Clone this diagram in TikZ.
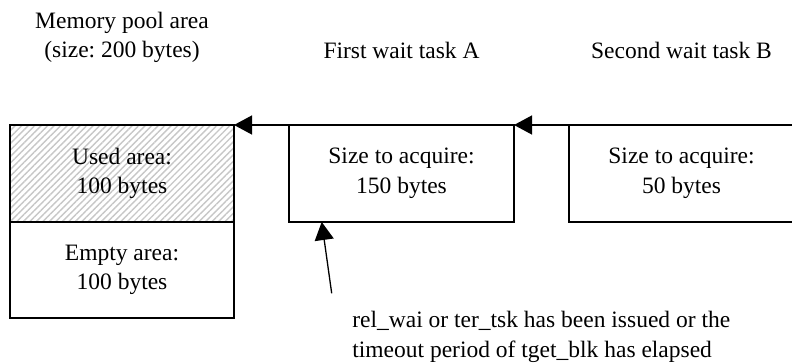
\documentclass[tikz,border=0pt]{standalone}
\usepackage{fontspec}
\setmainfont{Liberation Serif}
\usetikzlibrary{arrows.meta,positioning,calc,patterns.meta}
\frenchspacing

\begin{document}
\begin{tikzpicture}[
  x=1pt, y=1pt,
  font=\fontsize{23.5pt}{29.5pt}\selectfont,
  >={Triangle[length=18pt,width=19pt]},
  line width=1.3pt,
  area/.style={draw, align=center, minimum width=224pt, minimum height=97pt, inner sep=0pt, outer sep=0pt},
  wait/.style={area, minimum width=225pt},
  lbl/.style={align=center, inner sep=0pt},
  hatch/.style={pattern={Lines[angle=45,distance=4.6pt,line width=1.4pt]}, pattern color=black!22}
]
\useasboundingbox (0,0) rectangle (792,362);

% memory pool
\node[area, hatch, anchor=north west] (used) at (10,237) {Used area:\\100 bytes};
\node[area, below=0pt of used, minimum height=96pt] (empty) {Empty area:\\100 bytes};
\node[lbl, above=61.5pt of used] (pool) {Memory pool area\\(size: 200 bytes)};

% wait queue
\node[wait, right=55pt of used] (taskA) {Size to acquire:\\150 bytes};
\node[wait, right=55pt of taskA] (taskB) {Size to acquire:\\50 bytes};
\node[lbl, above=66pt of taskA] (nameA) {First wait task A};
\node[lbl, above=66pt of taskB] (nameB) {Second wait task B};

\draw[->] (taskB.north west) -- (taskA.north east);
\draw[->] (taskA.north west) -- (used.north east);

% release event
\node[lbl, align=left, below right=88.7pt and 62.7pt of taskA.south west] (cause)
  {rel\_wai or ter\_tsk has been issued or the\\timeout period of tget\_blk has elapsed};
\coordinate (trig) at ($(cause.north west)+(-20,17.4)$);
\draw[->] (trig) -- ($(taskA.south west)+(32.7,0)$);

\end{tikzpicture}
\end{document}
